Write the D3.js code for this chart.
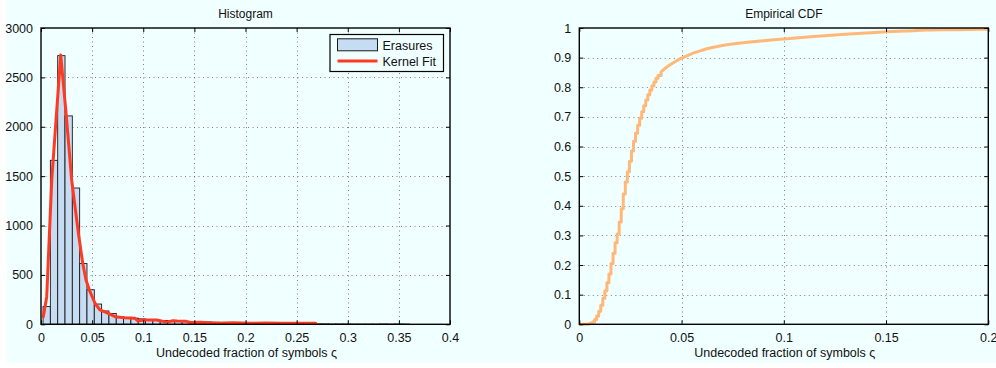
<!DOCTYPE html>
<html>
<head>
<meta charset="utf-8">
<script src="https://cdn.jsdelivr.net/npm/d3@7"></script>
<style>
  html, body { margin: 0; padding: 0; background: #ffffff; }
  svg { display: block; }
  text { font-family: "Liberation Sans", Arial, Helvetica, sans-serif; fill: #111; }
</style>
</head>
<body>
<svg id="fig" width="996" height="368"></svg>
<script>
// ---- Histogram data: 50 equal-width bins of the undecoded fraction ----
const binStart = 0.002;
const binWidth = 0.00716;
const histCounts = [
  180, 1660, 2720, 2110, 1380, 615, 350, 205, 135, 110,
  75, 70, 62, 55, 48, 42, 38, 35, 32, 30,
  27, 25, 23, 21, 19, 17, 15, 13, 12, 11,
  10, 9, 8, 7, 6, 5, 5, 4, 4, 3,
  3, 3, 2, 2, 2, 2, 3, 2, 3, 2
];

// ---- Kernel density fit, scaled to counts ----
const kernelX = [0.00225, 0.0056, 0.0105, 0.0147, 0.0193, 0.0251, 0.0300, 0.0333, 0.0366,
  0.0408, 0.0440, 0.0479, 0.0528, 0.0577, 0.0658, 0.0724, 0.082, 0.0919, 0.095, 0.100,
  0.113, 0.123, 0.129, 0.133, 0.142, 0.146, 0.156, 0.172, 0.188, 0.204, 0.220, 0.234,
  0.257, 0.2687];
const kernelY = [77, 280, 1460, 2067, 2727, 2067, 1460, 1190, 921,
  618, 449, 330, 213, 145, 111, 77, 67, 61, 33, 44,
  44, 22, 36, 33, 30, 18, 20, 10, 15, 10, 12, 10,
  10, 10];

// ---- Empirical CDF ----
const cdfX = [0, 0.0035, 0.0045, 0.0055, 0.0065, 0.0075, 0.0085, 0.0095, 0.0105, 0.0115,
  0.0125, 0.0135, 0.0145, 0.0155, 0.0165, 0.0175, 0.0185, 0.0195, 0.0205, 0.0215,
  0.0225, 0.0235, 0.0245, 0.0255, 0.0265, 0.0275, 0.0285, 0.0295, 0.0305, 0.0315,
  0.0325, 0.0335, 0.0345, 0.0355, 0.0365, 0.0375, 0.0385, 0.0400, 0.0420, 0.0440,
  0.0460, 0.0480, 0.0500, 0.0530, 0.0560, 0.0600, 0.0650, 0.0700, 0.0750, 0.0800,
  0.0900, 0.1000, 0.1100, 0.1200, 0.1300, 0.1400, 0.1500, 0.1600, 0.1700, 0.1800,
  0.1900, 0.2000];
const cdfY = [0, 0, 0.002, 0.004, 0.008, 0.016, 0.028, 0.044, 0.064, 0.088,
  0.113, 0.14, 0.17, 0.205, 0.24, 0.275, 0.305, 0.345, 0.39, 0.44,
  0.48, 0.515, 0.55, 0.585, 0.618, 0.645, 0.672, 0.695, 0.717, 0.738,
  0.757, 0.775, 0.791, 0.805, 0.818, 0.83, 0.84, 0.852, 0.864, 0.874,
  0.883, 0.891, 0.898, 0.907, 0.916, 0.925, 0.934, 0.941, 0.946, 0.950,
  0.957, 0.963, 0.969, 0.974, 0.979, 0.983, 0.987, 0.990, 0.993, 0.994,
  0.995, 0.996];
// beyond this fraction the CDF steps are too fine to show, so the tail is drawn as a smooth line
const cdfStepLimit = 0.04;

// ---- Tick values ----
const histXTicks = [0, 0.05, 0.1, 0.15, 0.2, 0.25, 0.3, 0.35, 0.4];
const histYTicks = [0, 500, 1000, 1500, 2000, 2500, 3000];
const cdfXTicks = [0, 0.05, 0.1, 0.15, 0.2];
const cdfYTicks = [0, 0.1, 0.2, 0.3, 0.4, 0.5, 0.6, 0.7, 0.8, 0.9, 1];

const xLabelText = "Undecoded fraction of symbols \u03C2";
const bgColor = "#f0ffff";
const fmt = d => String(+d.toFixed(3));

const svg = d3.select("#fig");
svg.append("rect").attr("x", 7).attr("y", 0).attr("width", 989).attr("height", 363)
  .attr("fill", bgColor);

function panel(opts) {
  const { left, right, top, bottom, xDomain, yDomain, xTicks, yTicks, title } = opts;
  const x = d3.scaleLinear().domain(xDomain).range([left, right]);
  const y = d3.scaleLinear().domain(yDomain).range([bottom, top]);
  const g = svg.append("g");

  g.append("rect").attr("x", left).attr("y", top)
    .attr("width", right - left).attr("height", bottom - top).attr("fill", bgColor);

  // dotted grid
  const grid = g.append("g").attr("stroke", "#4a4a4a").attr("stroke-width", 1)
    .attr("stroke-dasharray", "1,3.5").attr("fill", "none");
  xTicks.slice(1, -1).forEach(t => {
    grid.append("line").attr("x1", Math.round(x(t)) + 0.5).attr("x2", Math.round(x(t)) + 0.5)
      .attr("y1", top).attr("y2", bottom).attr("opacity", 0.7);
  });
  yTicks.slice(1, -1).forEach(t => {
    grid.append("line").attr("y1", Math.round(y(t)) + 0.5).attr("y2", Math.round(y(t)) + 0.5)
      .attr("x1", left).attr("x2", right).attr("opacity", 0.7);
  });

  const marks = g.append("g");

  // axes with inward ticks on all four sides
  const axB = d3.axisBottom(x).tickValues(xTicks).tickSize(-4).tickPadding(9).tickFormat(fmt);
  const axT = d3.axisTop(x).tickValues(xTicks).tickSize(-4).tickFormat("");
  const axL = d3.axisLeft(y).tickValues(yTicks).tickSize(-4).tickPadding(8).tickFormat(fmt);
  const axR = d3.axisRight(y).tickValues(yTicks).tickSize(-4).tickFormat("");
  const axes = g.append("g");
  [[axB, `translate(0,${bottom})`], [axT, `translate(0,${top})`],
   [axL, `translate(${left},0)`], [axR, `translate(${right},0)`]].forEach(([ax, tr]) => {
    const a = axes.append("g").attr("transform", tr).call(ax);
    a.select(".domain").remove();
    a.selectAll("line").attr("stroke", "#000").attr("stroke-width", 1);
    a.selectAll("text").style("font-size", "12.5px").attr("fill", "#111")
      .style("font-family", '"Liberation Sans", Arial, sans-serif');
  });

  axes.append("rect").attr("x", left).attr("y", top)
    .attr("width", right - left).attr("height", bottom - top)
    .attr("fill", "none").attr("stroke", "#000").attr("stroke-width", 1.4);

  g.append("text").attr("x", (left + right) / 2).attr("y", 18)
    .attr("text-anchor", "middle").style("font-size", "12px").text(title);
  g.append("text").attr("x", (left + right) / 2 + 1).attr("y", 357)
    .attr("text-anchor", "middle").style("font-size", "12.5px").text(xLabelText);

  return { x, y, marks };
}

// ---------- Left: histogram with kernel fit ----------
const h = panel({
  left: 41, right: 450, top: 28, bottom: 324.3,
  xDomain: [0, 0.4], yDomain: [0, 3000],
  xTicks: histXTicks, yTicks: histYTicks, title: "Histogram"
});

h.marks.selectAll("rect.bar").data(histCounts).join("rect")
  .attr("class", "bar")
  .attr("x", (d, i) => h.x(binStart + i * binWidth))
  .attr("width", h.x(binWidth) - h.x(0))
  .attr("y", d => h.y(d))
  .attr("height", d => h.y(0) - h.y(d))
  .attr("fill", "#c6dcf2")
  .attr("stroke", "#1a1a1a").attr("stroke-width", 0.9);

const kernelLine = d3.line().x(d => h.x(d[0])).y(d => h.y(d[1])).curve(d3.curveLinear);
h.marks.append("path")
  .attr("d", kernelLine(kernelX.map((v, i) => [v, kernelY[i]])))
  .attr("fill", "none").attr("stroke", "#ff3a22").attr("stroke-width", 3)
  .attr("stroke-linejoin", "round").attr("stroke-linecap", "round");

// legend
const lg = svg.append("g");
lg.append("rect").attr("x", 330).attr("y", 34.5).attr("width", 113.5).attr("height", 37)
  .attr("fill", bgColor).attr("stroke", "#000").attr("stroke-width", 1.2);
lg.append("rect").attr("x", 337.5).attr("y", 38.8).attr("width", 40).attr("height", 12)
  .attr("fill", "#c6dcf2").attr("stroke", "#1a1a1a").attr("stroke-width", 1);
lg.append("text").attr("x", 382.5).attr("y", 49.5).style("font-size", "12.5px").text("Erasures");
lg.append("line").attr("x1", 337.5).attr("x2", 377.5).attr("y1", 61).attr("y2", 61)
  .attr("stroke", "#ff3a22").attr("stroke-width", 3);
lg.append("text").attr("x", 382.5).attr("y", 66).style("font-size", "12.5px").text("Kernel Fit");

// ---------- Right: empirical CDF ----------
const c = panel({
  left: 579.3, right: 988.3, top: 28, bottom: 324.3,
  xDomain: [0, 0.2], yDomain: [0, 1],
  xTicks: cdfXTicks, yTicks: cdfYTicks, title: "Empirical CDF"
});

const cdfPts = cdfX.map((v, i) => [v, cdfY[i]]);
const headPts = cdfPts.filter(p => p[0] <= cdfStepLimit);
const tailPts = cdfPts.filter(p => p[0] >= headPts[headPts.length - 1][0]);
const stepLine = d3.line().x(d => c.x(d[0])).y(d => c.y(d[1])).curve(d3.curveStepAfter);
const smoothLine = d3.line().x(d => c.x(d[0])).y(d => c.y(d[1])).curve(d3.curveMonotoneX);
c.marks.append("path").attr("d", stepLine(headPts) + smoothLine(tailPts).replace(/^M/, "L"))
  .attr("fill", "none").attr("stroke", "#ffb877").attr("stroke-width", 3)
  .attr("stroke-linejoin", "round");
</script>
</body>
</html>
